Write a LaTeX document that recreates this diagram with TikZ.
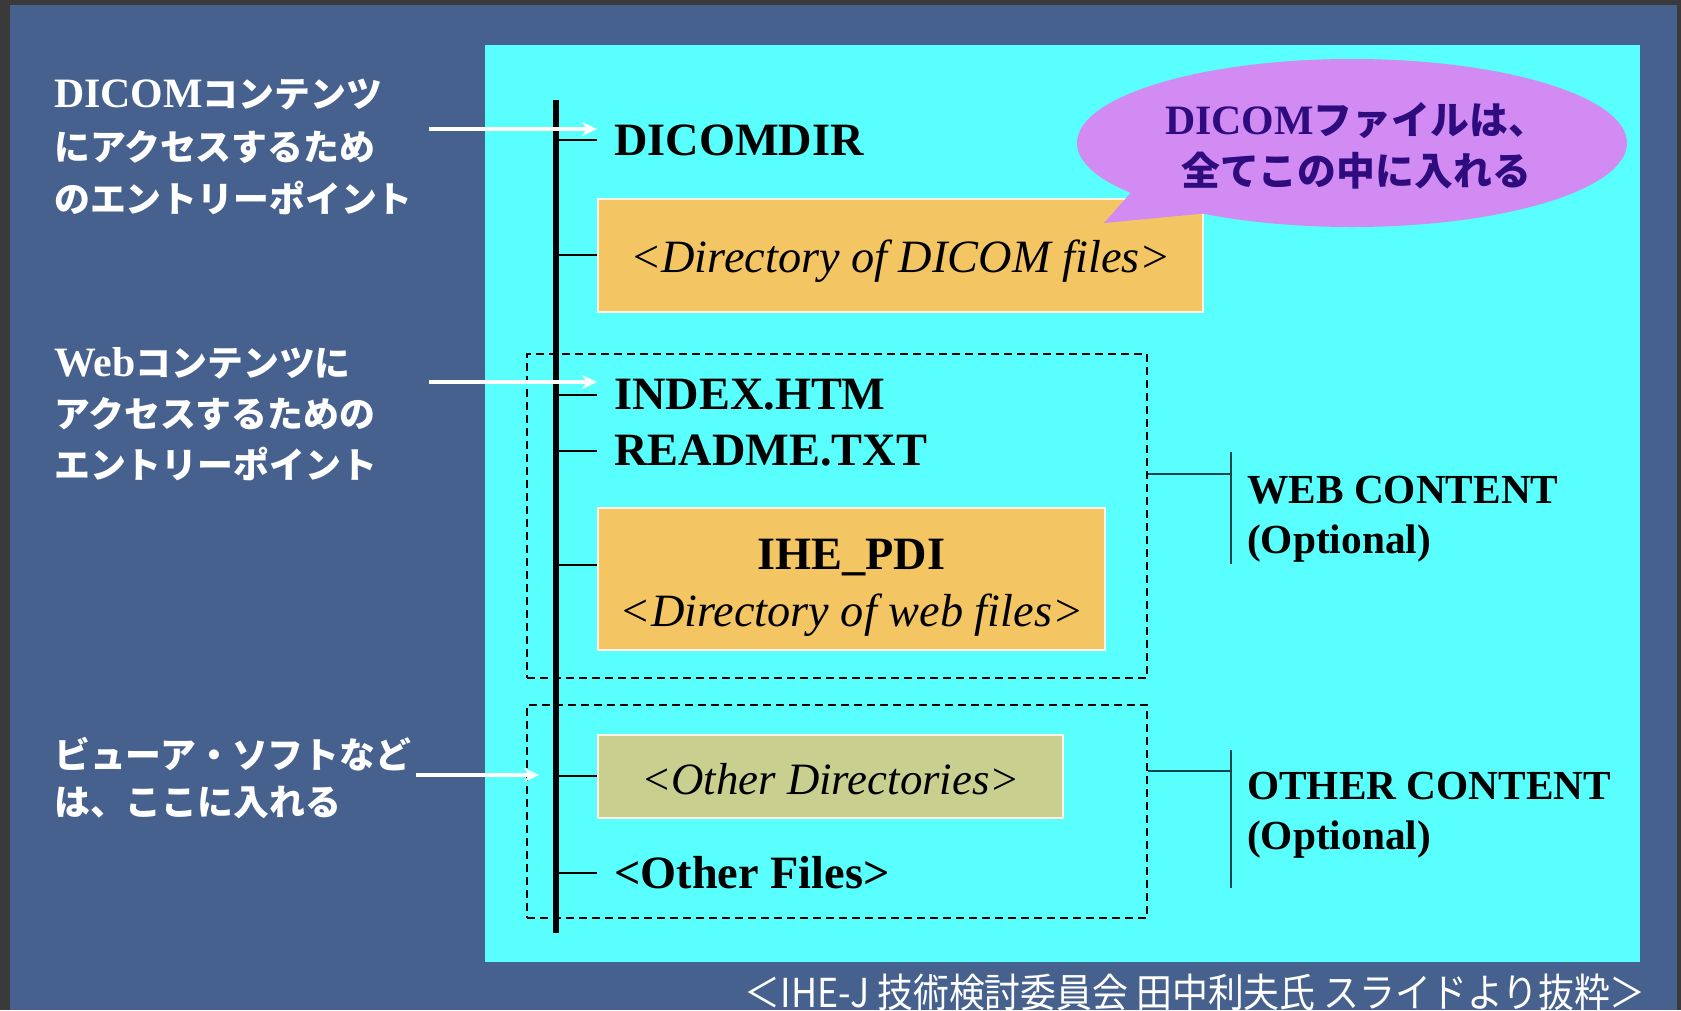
\documentclass[tikz,border=0pt]{standalone}
\usepackage{fontspec}
\setmainfont{Liberation Serif}
\newfontfamily\jp{Noto Sans CJK JP}
\newfontfamily\capfont{Noto Sans CJK JP}[FakeStretch=0.9]
\usetikzlibrary{arrows.meta}
\definecolor{outergray}{RGB}{58,58,58}
\definecolor{bgblue}{RGB}{70,97,142}
\definecolor{cyanbg}{RGB}{88,255,252}
\definecolor{orangebox}{RGB}{243,198,99}
\definecolor{khakibox}{RGB}{201,207,142}
\definecolor{bubble}{RGB}{209,139,243}
\definecolor{bubtext}{RGB}{46,12,126}
\definecolor{brk}{RGB}{15,70,75}
\newcommand\lat[1]{{\rmfamily\bfseries\fontsize{42}{\baselineskip}\selectfont #1}}
\tikzset{
  item/.style={anchor=west, inner xsep=17bp, inner ysep=0pt, font=\bfseries\fontsize{46.5}{56}\selectfont, text=black},
  dirbox/.style={fill=#1, draw=white!90!orange, line width=1.5bp, inner sep=0pt, align=center},
  dashbox/.style={draw=black, dashed, dash pattern=on 8bp off 5bp, line width=1.8bp, inner sep=0pt},
  branch/.style={draw=black, line width=2bp},
  brkline/.style={draw=brk, line width=2bp},
  label/.style={anchor=west, inner sep=0pt, align=left, text=white, font=\jp\bfseries\fontsize{36}{#1}\selectfont},
  warrow/.style={draw=white, line width=3.5bp, -{Stealth[length=15bp,width=14bp]}},
  content/.style={anchor=west, inner sep=0pt, align=left, font=\bfseries\fontsize{41.5}{50}\selectfont}
}
\begin{document}
\begin{tikzpicture}[x=1bp,y=-1bp]
\useasboundingbox (0,0) rectangle (1681,1010);
\fill[outergray] (0,0) rectangle (1681,1010);
\fill[bgblue] (10,5) rectangle (1677,1010);
\fill[cyanbg] (485,45) rectangle (1640,962);

% dashed group boxes
\node[dashbox, minimum width=620bp, minimum height=324bp] (webgrp) at (837,516) {};
\node[dashbox, minimum width=620bp, minimum height=213bp] (othgrp) at (837,811.5) {};

% trunk
\coordinate (top) at (556,100);
\coordinate (bot) at (556,933);
\draw[line width=6.5bp] (top) -- (bot);

% items
\node[item] (dicomdir) at (597,140) {DICOMDIR};
\node[dirbox=orangebox, minimum width=605bp, minimum height=113bp, font=\itshape\fontsize{46.5}{56}\selectfont] (dcmdir) at (900.5,255.5) {\rule{0pt}{43bp}<Directory of DICOM files>};
\node[item] (index) at (597,395) {INDEX.HTM};
\node[item] (readme) at (597,451) {README.TXT};
\node[dirbox=orangebox, minimum width=507bp, minimum height=142bp, font=\fontsize{46.5}{57}\selectfont] (ihe) at (851.5,579) {\rule{0pt}{48bp}\bfseries IHE\_PDI\\\itshape <Directory of web files>};
\node[dirbox=khakibox, minimum width=465bp, minimum height=83bp, font=\itshape\fontsize{45}{54}\selectfont] (othdir) at (830.5,776.5) {\rule{0pt}{36bp}<Other Directories>};
\node[item] (othfiles) at (597,873) {<Other Files>};

% branches
\draw[branch] (top |- dicomdir.west) -- (dicomdir.west);
\coordinate (b2) at (556,255);
\draw[branch] (b2) -- (b2 -| dcmdir.west);
\draw[branch] (top |- index.west) -- (index.west);
\draw[branch] (top |- readme.west) -- (readme.west);
\coordinate (b5) at (556,565);
\draw[branch] (b5) -- (b5 -| ihe.west);
\coordinate (b6) at (556,776);
\draw[branch] (b6) -- (b6 -| othdir.west);
\draw[branch] (top |- othfiles.west) -- (othfiles.west);

% brackets
\coordinate (wb) at (1231,474);
\coordinate (wbt) at (1231,452);
\coordinate (wbb) at (1231,564);
\draw[brkline] (wb -| webgrp.east) -- (wb);
\draw[brkline] (wbt) -- (wbb);
\coordinate (ob) at (1231,771);
\coordinate (obt) at (1231,750);
\coordinate (obb) at (1231,888);
\draw[brkline] (ob -| othgrp.east) -- (ob);
\draw[brkline] (obt) -- (obb);
\node[content] (webc) at (1247,519) {WEB CONTENT\\(Optional)};
\node[content] (othc) at (1247,815) {OTHER CONTENT\\(Optional)};

% speech bubble
\fill[bubble] (1352,143) ellipse [x radius=275, y radius=84];
\coordinate (tailA) at (1135,188);
\coordinate (tailTip) at (1104,223);
\coordinate (tailB) at (1220,212);
\fill[bubble] (tailA) -- (tailTip) -- (tailB) -- cycle;
\node[align=center, inner sep=0pt, text=bubtext, font=\jp\bfseries\fontsize{39}{51}\selectfont] (bubtxt) at (1356,146) {\lat{DICOM}ファイルは、\\全てこの中に入れる};

% left labels
\node[label=52.5] (lab1) at (54,147) {\lat{DICOM}コンテンツ\\にアクセスするため\\のエントリーポイント};
\node[label=51.5] (lab2) at (54,414) {\lat{Web}コンテンツに\\アクセスするための\\エントリーポイント};
\node[label=48] (lab3) at (54,778) {ビューア・ソフトなど\\は、ここに入れる};

% arrows
\coordinate (a1s) at (429,129);
\coordinate (a1e) at (597,129);
\draw[warrow] (a1s) -- (a1e);
\coordinate (a2s) at (429,382);
\coordinate (a2e) at (597,382);
\draw[warrow] (a2s) -- (a2e);
\coordinate (a3s) at (416,775);
\coordinate (a3e) at (539,775);
\draw[warrow] (a3s) -- (a3e);

% caption
\node[anchor=east, inner sep=0pt, text=white, font=\capfont\fontsize{40}{48}\selectfont] (cap) at (1646,992) {＜IHE-J 技術検討委員会 田中利夫氏 スライドより抜粋＞};
\end{tikzpicture}
\end{document}
